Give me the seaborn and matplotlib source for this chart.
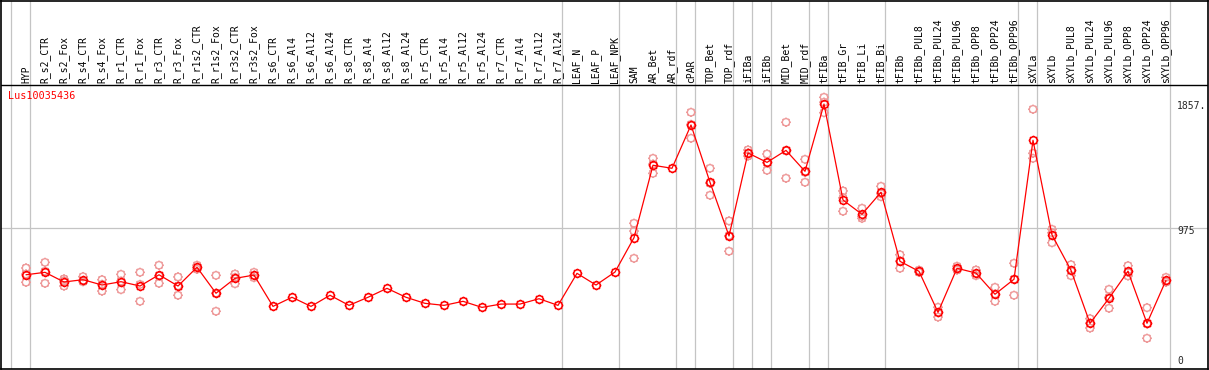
import numpy as np
import pandas as pd
import matplotlib
matplotlib.use("Agg")
import matplotlib.pyplot as plt
from matplotlib.path import Path
import seaborn as sns

categories = ["HYP", "R_s2_CTR", "R_s2_Fox", "R_s4_CTR", "R_s4_Fox", "R_r1_CTR", "R_r1_Fox",
              "R_r3_CTR", "R_r3_Fox", "R_r1s2_CTR", "R_r1s2_Fox", "R_r3s2_CTR", "R_r3s2_Fox",
              "R_s6_CTR", "R_s6_Al4", "R_s6_Al12", "R_s6_Al24", "R_s8_CTR", "R_s8_Al4",
              "R_s8_Al12", "R_s8_Al24", "R_r5_CTR", "R_r5_Al4", "R_r5_Al12", "R_r5_Al24",
              "R_r7_CTR", "R_r7_Al4", "R_r7_Al12", "R_r7_Al24", "LEAF_N", "LEAF_P", "LEAF_NPK",
              "SAM", "AR_Bet", "AR_rdf", "cPAR", "TOP_Bet", "TOP_rdf", "iFIBa", "iFIBb",
              "MID_Bet", "MID_rdf", "tFIBa", "tFIB_Gr", "tFIB_Li", "tFIB_Bi", "tFIBb",
              "tFIBb_PUL8", "tFIBb_PUL24", "tFIBb_PUL96", "tFIBb_OPP8", "tFIBb_OPP24",
              "tFIBb_OPP96", "sXYLa", "sXYLb", "sXYLb_PUL8", "sXYLb_PUL24", "sXYLb_PUL96",
              "sXYLb_OPP8", "sXYLb_OPP24", "sXYLb_OPP96"]

mean_values = [653, 670, 603, 619, 582, 605, 575, 653, 575, 705, 525, 628, 651,
               434, 497, 434, 511, 441, 497, 559, 497, 455, 441, 469, 427, 450, 450, 487, 441,
               663, 582, 672,
               910, 1412, 1391, 1691, 1294, 922, 1497, 1432, 1515, 1370, 1836, 1171, 1072, 1225,
               746, 677, 393, 698, 665, 518, 622,
               1585, 929, 684, 317, 490, 677, 317, 615]

nan = np.nan
rep1 = [700, 739, 624, 640, 619, 656, 670, 719, 638, 719, 649, 658, 670,
        nan, nan, nan, nan, nan, nan, nan, nan, nan, nan, nan, nan, nan, nan, nan, nan,
        nan, nan, nan,
        1010, 1460, nan, 1779, 1391, 1026, 1518, 1490, 1710, 1453, 1883, 1234, 1114, 1266,
        792, 685, 428, 712, 686, 566, 733,
        1800, 968, 723, 349, 552, 716, 425, 635]
rep2 = [658, 677, 610, 612, 587, 609, 586, 646, 576, 705, 526, 635, 650,
        nan, nan, nan, nan, nan, nan, nan, nan, nan, nan, nan, nan, nan, nan, nan, nan,
        nan, nan, nan,
        956, 1420, nan, 1695, 1287, 924, 1497, 1429, 1513, 1363, 1849, 1186, 1058, 1215,
        748, 676, 391, 696, 662, 519, 622,
        1495, 944, 682, 318, 497, 670, 313, 602]
rep3 = [601, 594, 575, 605, 540, 550, 469, 594, 511, 691, 400, 591, 633,
        nan, nan, nan, nan, nan, nan, nan, nan, nan, nan, nan, nan, nan, nan, nan, nan,
        nan, nan, nan,
        767, 1356, nan, 1599, 1204, 816, 1476, 1377, 1322, 1294, 1776, 1093, 1044, 1194,
        698, 670, 360, 686, 647, 469, 511,
        1460, 875, 647, 284, 421, 645, 213, 608]

group_ends = [-1, 0, 28, 31, 34, 35, 37, 38, 39, 41, 42, 45, 52, 53, 60]
axis_labels = ["1857.", "975", "0"]
gene = "Lus10035436"

sns.set_style("white")
plt.rcParams["font.family"] = ["DejaVu Sans Mono", "DejaVu Sans"]

W, H = 1209, 370
fig = plt.figure(figsize=(W / 100, H / 100), dpi=100)
# axes spans px x 1..1208, y 0.5..369
ax = fig.add_axes([1 / W, 1 / H, 1207 / W, 368.5 / H])
scale = 0.1443  # px per unit
px_per_cat = 19.0
xmin = -25 / px_per_cat
ax.set_xlim(xmin, xmin + 1207 / px_per_cat)
ax.set_ylim(0, 368.5 / scale)
ax.set_xticks([])
ax.set_yticks([])
for s in ax.spines.values():
    s.set_color("black")
    s.set_linewidth(1.2)

grid_c = "#C4C4C4"
for g in group_ends:
    ax.axvline(g + 0.23, color=grid_c, lw=0.9, zorder=0)
ax.axhline(975, color=grid_c, lw=0.9, zorder=0)
header_v = (369 - 85) / scale
ax.axhline(header_v, color="black", lw=1.0, zorder=1)

# marker: circle with small spikes
verts, codes = [], []
circ = Path.unit_circle()
verts.extend(circ.vertices.tolist())
codes.extend(circ.codes.tolist())
for a in np.deg2rad(np.arange(0, 360, 45)):
    verts += [(np.cos(a) * 1.0, np.sin(a) * 1.0), (np.cos(a) * 1.3, np.sin(a) * 1.3)]
    codes += [Path.MOVETO, Path.LINETO]
mk = Path(verts, codes)

idx = np.arange(len(categories))
reps = pd.DataFrame({"x": np.tile(idx, 3), "v": np.concatenate([rep1, rep2, rep3])}).dropna()
sns.scatterplot(data=reps, x="x", y="v", ax=ax, marker=mk, s=46, facecolor="none",
                edgecolor="#EE9A9A", linewidth=1.0, zorder=3, legend=False)

means = pd.DataFrame({"x": idx, "v": mean_values})
sns.lineplot(data=means, x="x", y="v", ax=ax, color="#FF0000", lw=0.9, marker=mk,
             markersize=7, markerfacecolor="none", markeredgecolor="#FF0000",
             markeredgewidth=1.1, zorder=4, legend=False)
ax.set_xlabel("")
ax.set_ylabel("")

label_v = (369 - 83) / scale
for i, c in enumerate(categories):
    ax.text(i, label_v, c, rotation=90, ha="center", va="bottom", fontsize=7, color="black")

fig.text(8 / W, 1 - 91 / H, gene, color="#FF0000", fontsize=7.3, ha="left", va="top")
fig.text(1177 / W, 1 - 101 / H, axis_labels[0], fontsize=7, ha="left", va="top")
fig.text(1177 / W, 1 - 226 / H, axis_labels[1], fontsize=7, ha="left", va="top")
fig.text(1177 / W, 1 - 356 / H, axis_labels[2], fontsize=7, ha="left", va="top")

fig.savefig("out.png", dpi=100)
